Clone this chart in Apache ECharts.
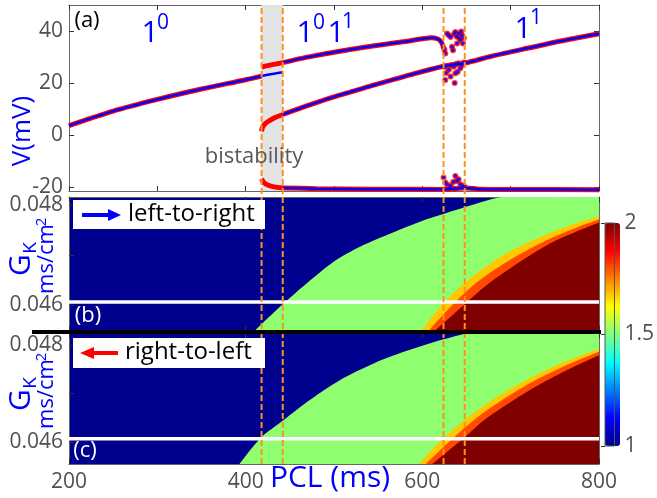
<!DOCTYPE html>
<html>
<head>
<meta charset="utf-8">
<script src="https://cdn.jsdelivr.net/npm/echarts@6/dist/echarts.min.js"></script>
<style>html,body{margin:0;padding:0;background:#fff}#main{width:657px;height:498px}</style>
</head>
<body>
<div id="main"></div>
<script>
// ticks / labels
var pclTicksA = [200, 300, 400, 500, 600, 700, 800];
var pclTicks = [200, 400, 600, 800];
var vTicks = [-20, 0, 20, 40];
var gkTicks = [0.046, 0.047, 0.048];
var gkLabels = [0.046, 0.048];
var cbTicks = [1, 1.5, 2];
var bistable = [418, 442];
var dashX = [418, 442, 624, 648];
var gkRef = 0.04606;

// panel (a): V(mV) vs PCL, blue = left-to-right, red = right-to-left
var red10 = [[200,3.7],[250,9.3],[300,13.8],[350,17.8],[400,21.4],[418,22.8]];
var blue10 = [[200,3.7],[250,9.3],[300,13.8],[350,17.8],[400,21.4],[418,22.8],[430,23.6],[442,24.3]];
var redUp0 = [[418,26.3],[430,27.2],[442,28.0]];
var upper = [[442,28.0],[470,30.1],[500,32.0],[540,34.2],[580,36.1],[610,37.6],[617,37.2],[621,36.2],[623,34.8],[624,33.5]];
var redMid0 = [[418,1.5],[419,3.0],[422,4.4],[427,5.6],[434,6.9],[442,8.0]];
var middle = [[442,8.0],[470,11.4],[500,14.8],[540,18.8],[580,22.7],[624,26.6],[648,27.8],[680,30.6],[720,33.6],[760,36.5],[800,39.1]];
var redLow0 = [[418,-16.8],[420,-18.0],[425,-19.2],[432,-19.9],[442,-20.3]];
var lower = [[442,-20.3],[480,-20.6],[540,-20.8],[624,-20.9],[640,-20.5],[650,-20.3],[665,-20.8],[700,-20.9],[800,-21.0]];
var chaos = [[625,33],[626,31.5],[628,39.2],[630,38.5],[632,37.9],[633.6,34.1],[634.7,32.8],[636,39],[637.4,39.8],[639.3,35.4],[639,38],[641,39.2],[642,37.5],[643,36.7],[645,38.5],[646,35.4],[647,37.5],[644,40],
  [626,26.4],[626,21.3],[627,24],[630,25.2],[632,22.6],[633,27],[635.6,26.4],[637.4,23.9],[638,27.5],[641,27.7],[643,25.8],[645,27],[647,28],[640,24.5],[636.6,20.1],
  [624,-16.3],[626,-18.2],[628,-19],[632,-19.5],[635,-18],[637.4,-15.7],[639,-17.6],[641,-17],[643,-18.9],[645,-20],[636,-20.6],[647,-19.5],[630,-20.5]];

// panel (b): region boundaries (PCL, GK); regions lie below each curve
var gkRangeB = [0.04548, 0.04816];
var bgB = [[410,0.04548],[441,0.0460],[469,0.04643],[500,0.04687],[530,0.04717],[564,0.04743],[601,0.04769],[620,0.04780],[636,0.04789],[660,0.04802],[690,0.04816],[800,0.04830]];
var yellowB = [[599,0.04548],[622,0.0460],[654,0.04653],[692,0.0470],[730,0.04733],[768,0.0476],[800,0.04777]];
var orangeB = [[607,0.04548],[634,0.0460],[663,0.04647],[701,0.04692],[739,0.04728],[772,0.04753],[800,0.04771]];
var redB = [[614,0.04548],[647,0.0460],[673,0.0464],[711,0.04687],[749,0.04727],[800,0.04765]];
// panel (c)
var gkRangeC = [0.04554, 0.04825];
var bgC = [[393,0.04554],[417,0.04608],[443,0.04645],[473,0.04687],[507,0.04728],[545,0.04762],[579,0.04786],[609,0.04804],[647,0.04823],[680,0.04835],[800,0.04860]];
var yellowC = [[596,0.04554],[624,0.04608],[666,0.0467],[711,0.04721],[756,0.04762],[800,0.04792]];
var orangeC = [[604,0.04554],[635,0.04608],[670,0.04661],[714,0.04713],[758,0.04754],[800,0.04786]];
var redC = [[611,0.04554],[647,0.04608],[673,0.04649],[719,0.04704],[760,0.04745],[800,0.04779]];

var jet = ['#00008f','#0000ff','#0080ff','#00ffff','#80ff80','#ffff00','#ff8000','#ff0000','#800000'];
var FONT = 'Open Sans';
var gray = '#666';

function xAx(grid, pos, ticks, labels, show) {
  return {type:'value', gridIndex:grid, position:pos, min:200, max:800, show: show !== false,
    splitLine:{show:false},
    axisLine:{show:true, onZero:false, lineStyle:{color:gray}},
    axisTick:{inside:true, length:5, customValues:ticks, lineStyle:{color:'#333'}},
    axisLabel:{show:!!labels, customValues:labels || [], margin:8, fontSize:21, fontFamily:FONT, color:'#505050'}};
}
function yAx(grid, pos, range, ticks, labels, fmt) {
  return {type:'value', gridIndex:grid, position:pos, min:range[0], max:range[1],
    splitLine:{show:false},
    axisLine:{show:true, onZero:false, lineStyle:{color:gray}},
    axisTick:{inside:true, length:5, customValues:ticks, lineStyle:{color:'#333'}},
    axisLabel:{show:!!labels, customValues:labels || [], margin:6, fontSize:21, fontFamily:FONT, color:'#505050', formatter:fmt}};
}
// filled region under a boundary curve, down to the axis minimum
function area(grid, pts, color, z) {
  return {type:'line', xAxisIndex:grid, yAxisIndex:grid, data:pts, symbol:'none', smooth:0.3,
    silent:true, z:z, clip:true, lineStyle:{width:0, color:color}, areaStyle:{color:color, opacity:1, origin:'start'}};
}
function ln(data, color, w, z, smooth) {
  return {type:'line', xAxisIndex:0, yAxisIndex:0, data:data, showSymbol:false, symbol:'none', z:z,
    smooth: smooth || 0, lineStyle:{color:color, width:w}, silent:true};
}
function txt(x, y, s, size, color, rot) {
  return {type:'text', x:x, y:y, rotation:rot || 0, z:100,
    style:{text:s, fontSize:size, fontFamily:FONT, fill:color, align:'center', verticalAlign:'middle', textAlign:'center', textVerticalAlign:'middle'}};
}
var fmt3 = function (v) { return v.toFixed(3); };
var R = Math.PI / 2;

var chart = echarts.init(document.getElementById('main'));
var option = {
  animation:false,
  grid:[
    {left:69, top:5, width:530, height:186},
    {left:69, top:197, width:530, height:134, show:true, backgroundColor:'#00008f', borderWidth:0},
    {left:69, top:333, width:530, height:131, show:true, backgroundColor:'#00008f', borderWidth:0},
    {left:69, top:5, width:530, height:459},
    {left:605, top:223, width:15, height:223, show:true, borderColor:'#555', borderWidth:1, backgroundColor:'transparent', z:10}
  ],
  xAxis:[
    xAx(0,'bottom',pclTicksA),
    xAx(1,'bottom',pclTicks),
    xAx(2,'bottom',pclTicks,pclTicks),
    xAx(3,'bottom',[],null,false),
    {type:'value', gridIndex:4, show:false, min:0, max:1},
    xAx(0,'top',pclTicksA),
    xAx(1,'top',pclTicks),
    xAx(2,'top',pclTicks)
  ],
  yAxis:[
    yAx(0,'left',[-21.5,50.2],vTicks,vTicks),
    yAx(1,'left',gkRangeB,gkTicks,gkLabels,fmt3),
    yAx(2,'left',gkRangeC,gkTicks,gkLabels,fmt3),
    {type:'value', gridIndex:3, show:false, min:0, max:1},
    {type:'value', gridIndex:4, position:'right', min:1, max:2,
      splitLine:{show:false}, axisLine:{show:false},
      axisTick:{inside:true, length:4, customValues:cbTicks, lineStyle:{color:'#333'}},
      axisLabel:{customValues:cbTicks, margin:10, fontSize:21, fontFamily:FONT, color:'#505050'}},
    yAx(0,'right',[-21.5,50.2],vTicks),
    yAx(1,'right',gkRangeB,gkTicks),
    yAx(2,'right',gkRangeC,gkTicks)
  ],
  visualMap:{type:'continuous', min:1, max:2, left:605, top:223, itemWidth:15, itemHeight:223, padding:0,
    calculable:false, text:null, seriesIndex:[], inRange:{color:jet}, z:4},
  series:[
    {type:'custom', xAxisIndex:0, yAxisIndex:0, silent:true, z:1, data:[bistable],
      renderItem:function(params, api){
        var p0 = api.coord([api.value(0), 50.2]), p1 = api.coord([api.value(1), -21.5]);
        return {type:'rect', shape:{x:p0[0], y:p0[1], width:p1[0]-p0[0], height:p1[1]-p0[1]}, style:{fill:'#e3e3e3'}};
      }},
    ln(red10,'#ff0000',5,2,0.3), ln(redUp0,'#ff0000',5,2,0.3), ln(upper,'#ff0000',5,2,0.2), ln(redMid0,'#ff0000',5,2,0.3),
    ln(middle,'#ff0000',5,2,0.3), ln(redLow0,'#ff0000',5,2,0.3), ln(lower,'#ff0000',5,2,0.3),
    {type:'scatter', xAxisIndex:0, yAxisIndex:0, data:chaos, symbolSize:6, itemStyle:{color:'#ff0000'}, z:2, silent:true},
    ln(blue10,'#0000ff',2.5,3,0.3), ln(upper,'#0000ff',2.5,3,0.2), ln(middle,'#0000ff',2.5,3,0.3), ln(lower,'#0000ff',2.5,3,0.3),
    {type:'scatter', xAxisIndex:0, yAxisIndex:0, data:chaos, symbolSize:3.5, itemStyle:{color:'#0000ff'}, z:3, silent:true},

    area(1, bgB, '#8fff70', 2),
    area(1, yellowB, '#ffc800', 3),
    area(1, orangeB, '#ff4a00', 4),
    area(1, redB, '#800000', 5),
    {type:'line', xAxisIndex:1, yAxisIndex:1, data:[[200,gkRef],[800,gkRef]], symbol:'none', z:6, silent:true, lineStyle:{color:'#fff', width:3.5}},

    area(2, bgC, '#8fff70', 2),
    area(2, yellowC, '#ffc800', 3),
    area(2, orangeC, '#ff4a00', 4),
    area(2, redC, '#800000', 5),
    {type:'line', xAxisIndex:2, yAxisIndex:2, data:[[200,gkRef],[800,gkRef]], symbol:'none', z:6, silent:true, lineStyle:{color:'#fff', width:3.5}},

    {type:'custom', xAxisIndex:3, yAxisIndex:3, silent:true, z:20, data:dashX.map(function(x){return [x, 0];}),
      renderItem:function(params, api){
        var a = api.coord([api.value(0), 0]), b = api.coord([api.value(0), 1]);
        return {type:'line', shape:{x1:a[0], y1:a[1], x2:b[0], y2:b[1]}, style:{stroke:'#ff8f1f', lineWidth:2, lineDash:[6,3]}};
      }}
  ],
  graphic:[
    {type:'rect', shape:{x:32, y:330, width:569, height:4}, style:{fill:'#000'}, z:50},
    // panel labels and regime names
    txt(87, 21, '(a)', 22, '#000'),
    txt(150, 33, '1', 30, '#0000ff'), txt(163, 23, '0', 21, '#0000ff'),
    txt(305, 33, '1', 30, '#0000ff'), txt(319, 23, '0', 21, '#0000ff'),
    txt(336, 33, '1', 30, '#0000ff'), txt(348, 22, '1', 21, '#0000ff'),
    txt(523, 29, '1', 30, '#0000ff'), txt(536, 18, '1', 21, '#0000ff'),
    txt(254, 157, 'bistability', 22, '#595959'),
    txt(23, 131, 'V(mV)', 26, '#0000ff', R),
    // G_K labels
    txt(21, 265, 'G', 30, '#0000ff', R), txt(31, 248, 'K', 19, '#0000ff', R),
    txt(47, 259, 'ms/cm', 22, '#0000ff', R), txt(42, 222, '2', 15, '#0000ff', R),
    txt(21, 400, 'G', 30, '#0000ff', R), txt(31, 383, 'K', 19, '#0000ff', R),
    txt(47, 394, 'ms/cm', 22, '#0000ff', R), txt(42, 357, '2', 15, '#0000ff', R),
    txt(88, 316, '(b)', 22, '#fff'),
    txt(85, 451, '(c)', 22, '#fff'),
    // legends
    {type:'rect', shape:{x:73, y:200, width:192, height:29}, style:{fill:'#fff'}, z:60},
    {type:'line', shape:{x1:82, y1:215, x2:110, y2:215}, style:{stroke:'#0000ff', lineWidth:4}, z:61},
    {type:'polygon', shape:{points:[[108,209],[121,215],[108,221]]}, style:{fill:'#0000ff'}, z:61},
    {type:'text', x:128, y:214, z:61, style:{text:'left-to-right', fontSize:24, fontFamily:FONT, fill:'#000', align:'left', verticalAlign:'middle', textAlign:'left', textVerticalAlign:'middle'}},
    {type:'rect', shape:{x:73, y:338, width:192, height:30}, style:{fill:'#fff'}, z:60},
    {type:'line', shape:{x1:92, y1:353, x2:118, y2:353}, style:{stroke:'#ff0000', lineWidth:4}, z:61},
    {type:'polygon', shape:{points:[[94,347],[80,353],[94,359]]}, style:{fill:'#ff0000'}, z:61},
    {type:'text', x:125, y:352, z:61, style:{text:'right-to-left', fontSize:24, fontFamily:FONT, fill:'#000', align:'left', verticalAlign:'middle', textAlign:'left', textVerticalAlign:'middle'}},
    // x axis name
    {type:'text', x:330, y:478, z:61, style:{text:'PCL (ms)', fontSize:30, fontFamily:FONT, fill:'#0000ff', align:'center', verticalAlign:'middle', textAlign:'center', textVerticalAlign:'middle'}}
  ]
};
chart.setOption(option);
</script>
</body>
</html>
